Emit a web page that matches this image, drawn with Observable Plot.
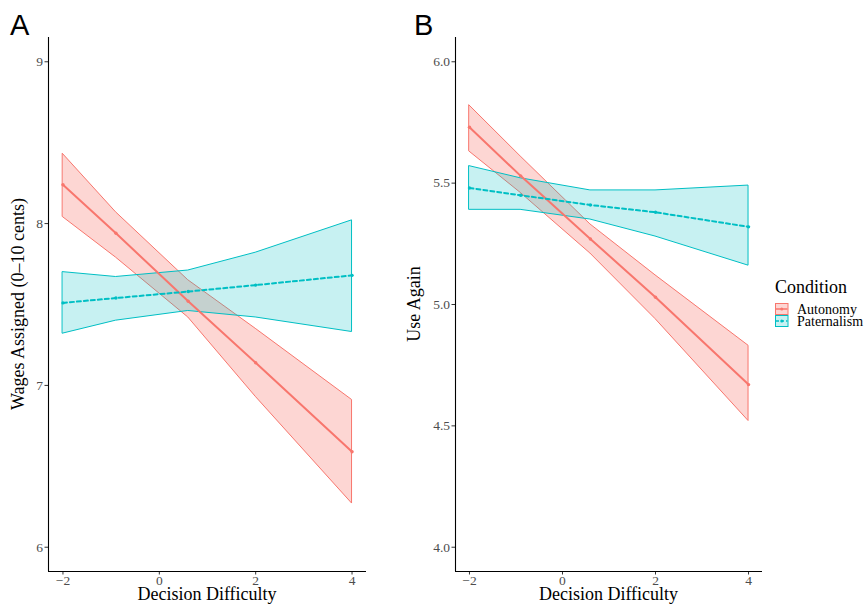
<!DOCTYPE html>
<html>
<head>
<meta charset="utf-8">
<script src="https://cdn.jsdelivr.net/npm/d3@7"></script>
<script src="https://cdn.jsdelivr.net/npm/@observablehq/plot@0.6"></script>
<style>
  html, body { margin: 0; padding: 0; background: #fff; }
  #wrap { position: relative; width: 865px; height: 604px; overflow: hidden; }
  #wrap > .panel { position: absolute; top: 0; }
  #overlay { position: absolute; left: 0; top: 0; }
</style>
</head>
<body>
<div id="wrap"></div>
<script>
// ---- data ----
const conditions = ["Autonomy", "Paternalism"];
const colors = ["#F8766D", "#00BFC4"];
const fillAlpha = [0.3, 0.22];
const difficulty = [-2, -0.9, 0.6, 2, 4];
const xTicks = [-2, 0, 2, 4];

// Panel A: Wages Assigned (0–10 cents)
const wagesAutonomy      = [8.24, 7.94, 7.52, 7.14, 6.59];
const wagesAutonomyLow   = [8.04, 7.79, 7.42, 6.93, 6.27];
const wagesAutonomyHigh  = [8.43, 8.07, 7.65, 7.35, 6.91];
const wagesPaternalism     = [7.51, 7.54, 7.58, 7.62, 7.68];
const wagesPaternalismLow  = [7.32, 7.40, 7.46, 7.42, 7.33];
const wagesPaternalismHigh = [7.70, 7.67, 7.71, 7.82, 8.02];
const wagesTicks = [6, 7, 8, 9];

// Panel B: Use Again
const useAutonomy      = [5.73, 5.53, 5.27, 5.03, 4.67];
const useAutonomyLow   = [5.63, 5.46, 5.21, 4.94, 4.52];
const useAutonomyHigh  = [5.82, 5.61, 5.33, 5.12, 4.83];
const usePaternalism     = [5.48, 5.45, 5.41, 5.38, 5.32];
const usePaternalismLow  = [5.39, 5.39, 5.35, 5.28, 5.16];
const usePaternalismHigh = [5.57, 5.52, 5.47, 5.47, 5.49];
const useTicks = [4.0, 4.5, 5.0, 5.5, 6.0];

function rows(cond, mean, lo, hi) {
  return difficulty.map((x, i) => ({x, cond, mean: mean[i], lo: lo[i], hi: hi[i]}));
}
const panelA = [
  ...rows("Autonomy", wagesAutonomy, wagesAutonomyLow, wagesAutonomyHigh),
  ...rows("Paternalism", wagesPaternalism, wagesPaternalismLow, wagesPaternalismHigh)
];
const panelB = [
  ...rows("Autonomy", useAutonomy, useAutonomyLow, useAutonomyHigh),
  ...rows("Paternalism", usePaternalism, usePaternalismLow, usePaternalismHigh)
];

const serif = "Liberation Serif";
const minusFmt = d => (d < 0 ? "\u2212" + Math.abs(d) : String(d));

function makePanel(data, yDomain, yTicks, yFmt, marginLeft, marginRight) {
  const xDomain = [-2.3, 4.3];
  const ribbons = conditions.map((c, i) =>
    Plot.areaY(data.filter(d => d.cond === c), {x: "x", y1: "lo", y2: "hi", fill: colors[i],
      fillOpacity: fillAlpha[i], stroke: colors[i], strokeWidth: 1, curve: "linear"}));
  return Plot.plot({
    width: 380,
    height: 604,
    marginTop: 37,
    marginBottom: 33,
    marginLeft,
    marginRight,
    style: {fontFamily: serif, background: "transparent", overflow: "visible"},
    x: {domain: xDomain, label: null},
    y: {domain: yDomain, label: null},
    color: {domain: conditions, range: colors},
    marks: [
      ...ribbons,
      Plot.line(data.filter(d => d.cond === "Autonomy"), {x: "x", y: "mean", stroke: "cond", strokeWidth: 2}),
      Plot.line(data.filter(d => d.cond === "Paternalism"), {x: "x", y: "mean", stroke: "cond", strokeWidth: 2,
                        strokeDasharray: "4,3"}),
      Plot.dot(data, {x: "x", y: "mean", fill: "cond", r: 1.7}),
      Plot.axisY({ticks: yTicks, tickFormat: yFmt, tickSize: 3.5, tickPadding: 2, fontSize: 13.5,
                  fontFamily: serif, color: "#4d4d4d", stroke: "#333", label: null}),
      Plot.axisX({ticks: xTicks, tickFormat: minusFmt, tickSize: 3.5, tickPadding: 0, fontSize: 13.5,
                  fontFamily: serif, color: "#4d4d4d", stroke: "#333", label: null}),
      Plot.ruleX([xDomain[0]], {stroke: "black", strokeWidth: 1.1}),
      Plot.ruleY([yDomain[0]], {stroke: "black", strokeWidth: 1.1})
    ]
  });
}

const wrap = document.getElementById("wrap");
const a = makePanel(panelA, [5.85, 9.15], wagesTicks, d3.format("d"), 48, 14);
a.classList.add("panel"); a.style.left = "0px";
wrap.appendChild(a);
const b = makePanel(panelB, [3.9, 6.1], useTicks, d3.format(".1f"), 55, 18);
b.classList.add("panel"); b.style.left = "400px";
wrap.appendChild(b);

// ---- overlay: panel letters, axis titles, legend ----
const ov = d3.select(wrap).append("svg").attr("id", "overlay")
  .attr("width", 865).attr("height", 604);

ov.append("text").attr("x", 10).attr("y", 35).text("A")
  .attr("font-family", "Liberation Sans, Arial, sans-serif").attr("font-size", 29);
ov.append("text").attr("x", 414).attr("y", 35).text("B")
  .attr("font-family", "Liberation Sans, Arial, sans-serif").attr("font-size", 29);

const titles = [
  {x: 207, text: "Decision Difficulty"},
  {x: 608.5, text: "Decision Difficulty"}
];
titles.forEach(t => ov.append("text").attr("x", t.x).attr("y", 600)
  .attr("text-anchor", "middle").attr("font-family", serif).attr("font-size", 18).text(t.text));

ov.append("text").attr("transform", "translate(24,304) rotate(-90)")
  .attr("text-anchor", "middle").attr("font-family", serif).attr("font-size", 18)
  .text("Wages Assigned (0–10 cents)");
ov.append("text").attr("transform", "translate(420,304) rotate(-90)")
  .attr("text-anchor", "middle").attr("font-family", serif).attr("font-size", 18)
  .text("Use Again");

// legend
const lg = ov.append("g").attr("transform", "translate(775,0)");
lg.append("text").attr("x", 0).attr("y", 293).attr("font-family", serif).attr("font-size", 18).text("Condition");
conditions.forEach((c, i) => {
  const y0 = 303 + i * 12;
  const g = lg.append("g");
  g.append("rect").attr("x", 0.5).attr("y", y0 + 0.5).attr("width", 12.5).attr("height", 11)
    .attr("fill", colors[i]).attr("fill-opacity", fillAlpha[i]).attr("stroke", colors[i]).attr("stroke-width", 1);
  g.append("line").attr("x1", 1).attr("x2", 12.5).attr("y1", y0 + 6).attr("y2", y0 + 6)
    .attr("stroke", colors[i]).attr("stroke-width", 1.5)
    .attr("stroke-dasharray", i === 1 ? "3,2" : null);
  g.append("circle").attr("cx", 6.75).attr("cy", y0 + 6).attr("r", 1.5).attr("fill", colors[i]);
  g.append("text").attr("x", 22).attr("y", y0 + 10.5).attr("font-family", serif).attr("font-size", 14)
    .text(c);
});
</script>
</body>
</html>
